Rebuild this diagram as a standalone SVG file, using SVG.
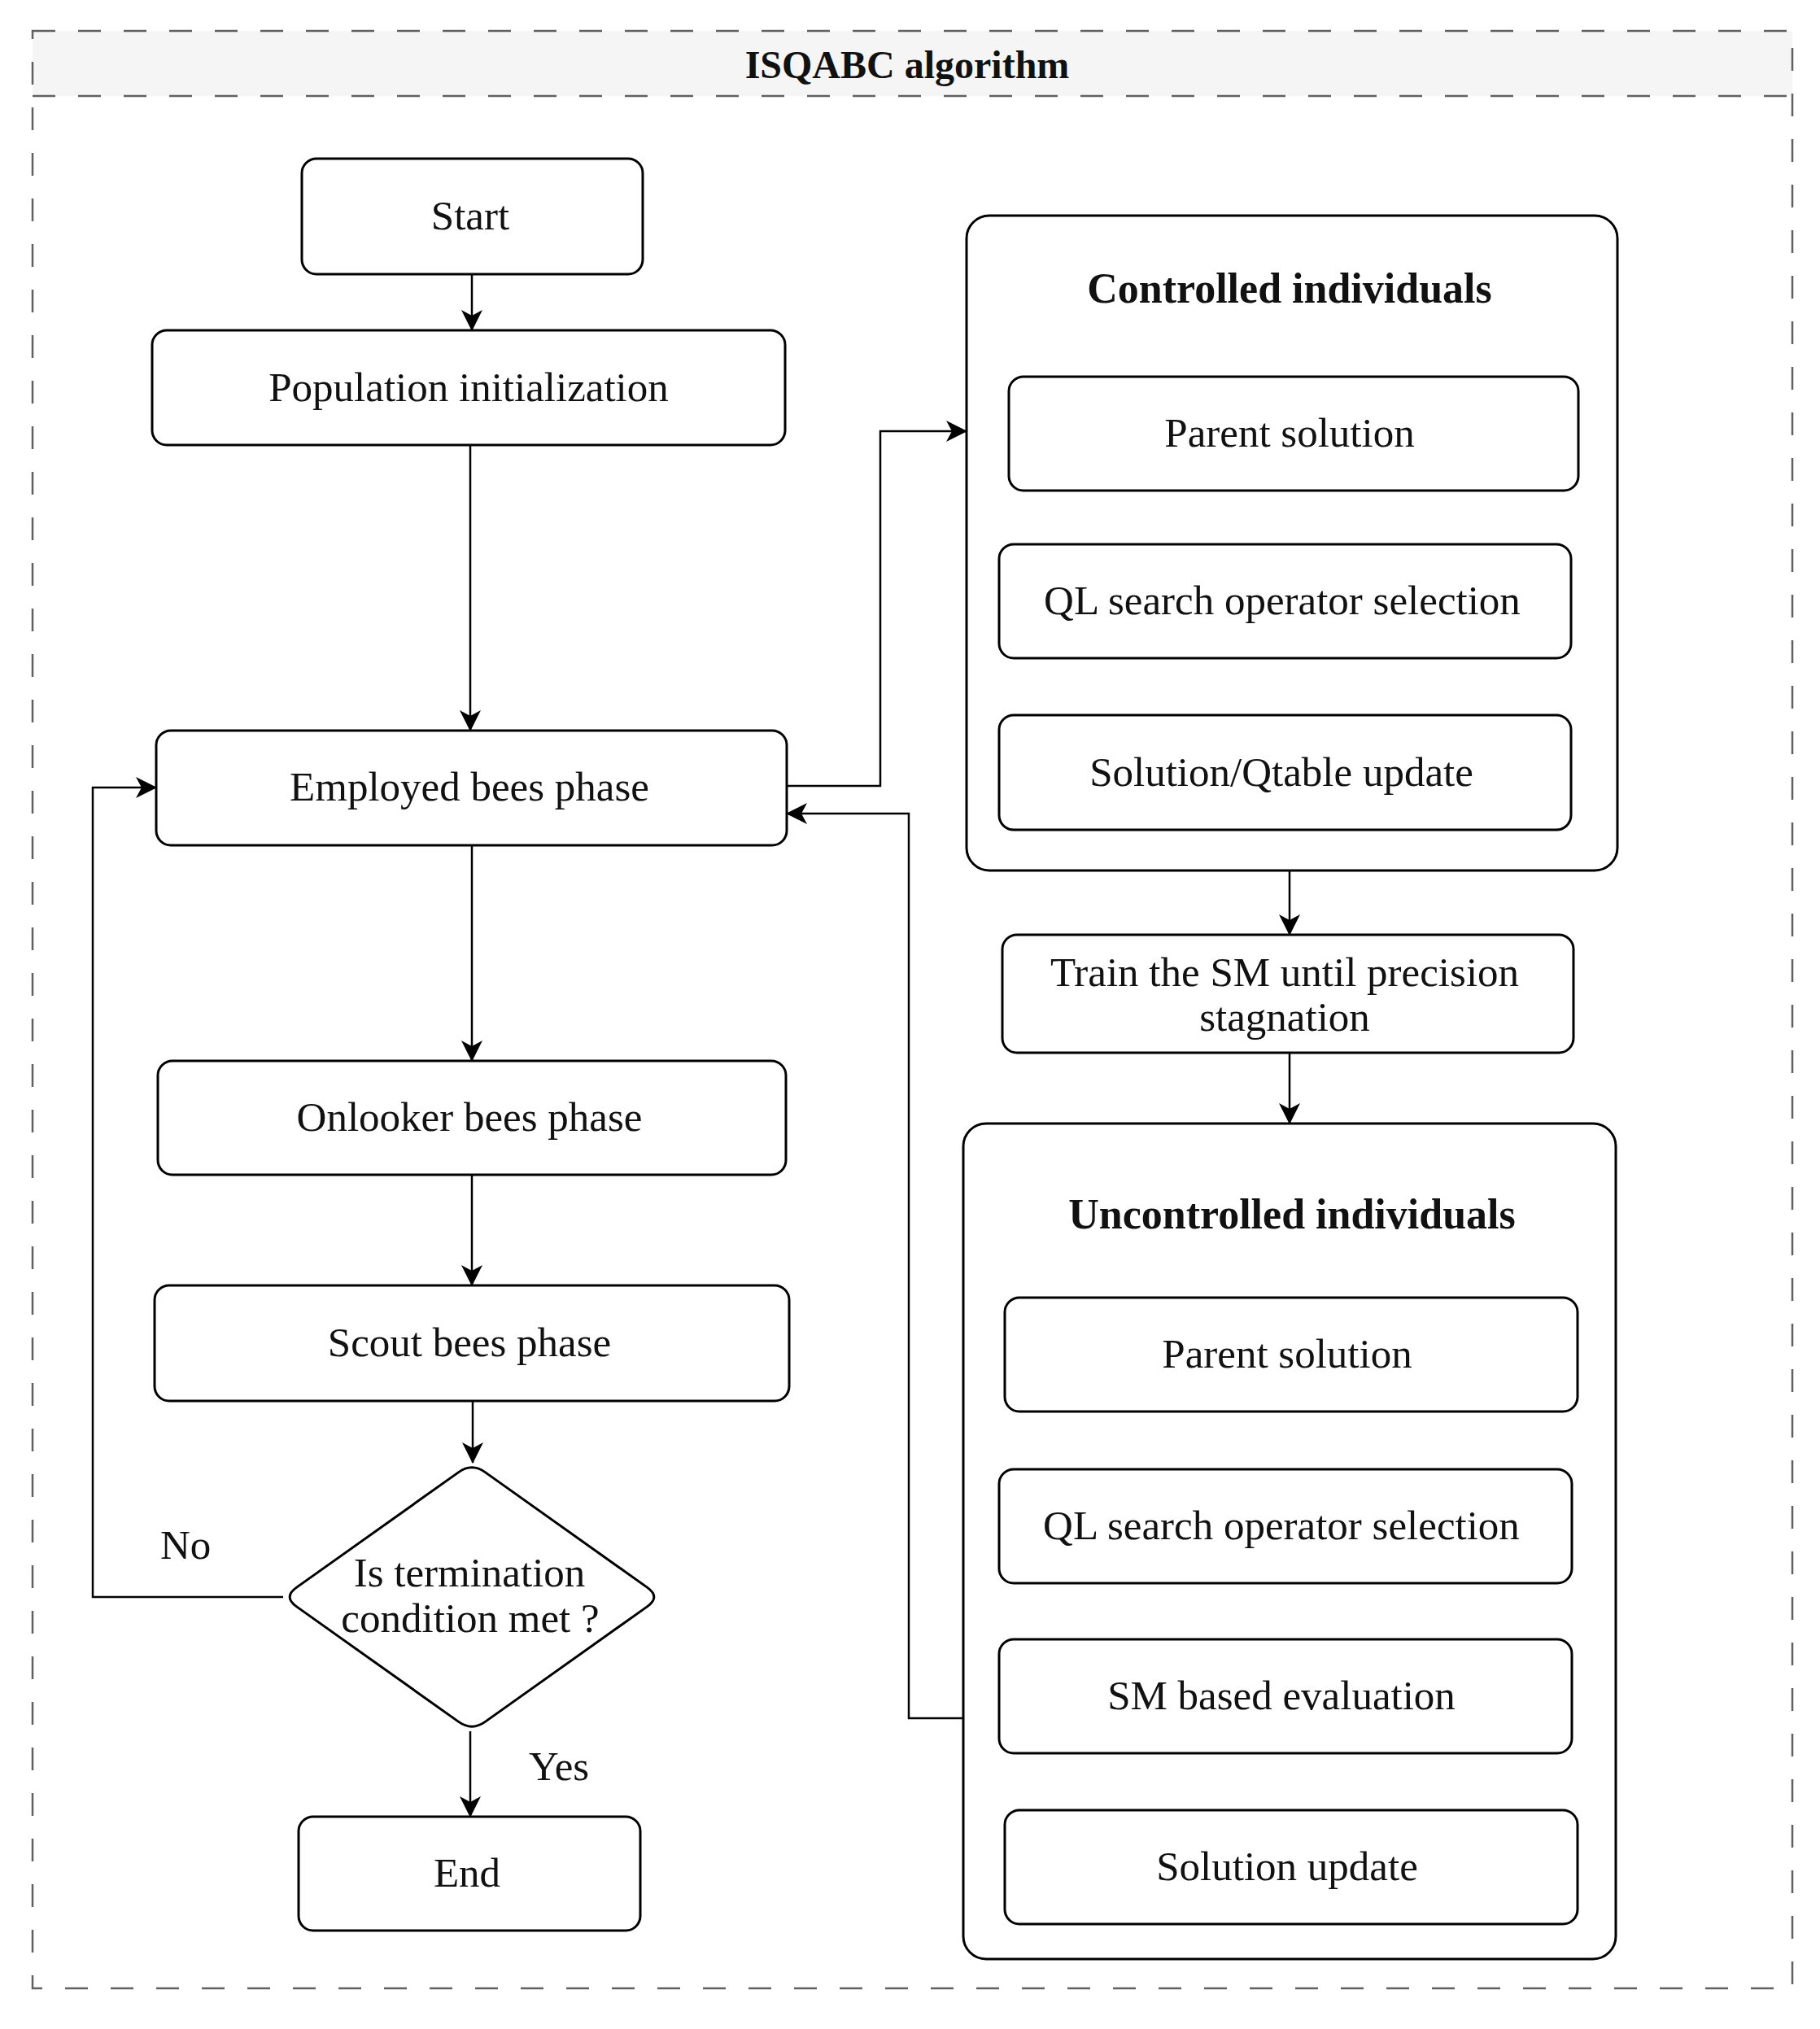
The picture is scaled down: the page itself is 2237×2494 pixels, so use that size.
<svg xmlns="http://www.w3.org/2000/svg" width="2237" height="2494" viewBox="0 0 2237 2494">
<defs>
<style>
.box{fill:#fff;stroke:#000;stroke-width:3}
.cont{fill:#fff;stroke:#000;stroke-width:3}
.t{font-family:"Liberation Serif","Times New Roman",serif;font-size:51px;fill:#111;text-anchor:middle}
.tl{font-family:"Liberation Serif","Times New Roman",serif;font-size:51px;fill:#111}
.b{font-family:"Liberation Serif","Times New Roman",serif;font-size:52px;font-weight:bold;fill:#111;text-anchor:middle}
.c{fill:none;stroke:#000;stroke-width:2.5}
.dash{fill:none;stroke:#606060;stroke-width:2.5;stroke-dasharray:28 28}
</style>
<marker id="arr" markerUnits="userSpaceOnUse" markerWidth="26" markerHeight="26" refX="25" refY="13" orient="auto">
<path d="M0,0 L26,13 L0,26 L7,13 Z" fill="#000"/>
</marker>
</defs>
<rect x="0" y="0" width="2237" height="2494" fill="#fff"/>
<g id="frame">
<rect x="40" y="38" width="2163" height="80" fill="#f5f5f5"/>
<rect class="dash" x="40" y="38" width="2163" height="2406"/>
<line class="dash" x1="40" y1="118" x2="2203" y2="118"/>
<text x="1115" y="96" font-family="Liberation Serif, Times New Roman, serif" font-size="48" font-weight="bold" fill="#111" text-anchor="middle">ISQABC algorithm</text>
</g>
<g id="connectors">
<path class="c" d="M580,337 L580,406" marker-end="url(#arr)"/>
<path class="c" d="M578,547 L578,898" stroke="#333" marker-end="url(#arr)"/>
<path class="c" d="M580,1039 L580,1304" stroke="#555" marker-end="url(#arr)"/>
<path class="c" d="M580,1444 L580,1580" marker-end="url(#arr)"/>
<path class="c" d="M581,1722 L581,1798" marker-end="url(#arr)"/>
<path class="c" d="M578,2128 L578,2233" stroke="#333" marker-end="url(#arr)"/>
<path class="c" d="M348,1963 L114,1963 L114,968 L192,968" marker-end="url(#arr)"/>
<path class="c" d="M967,966 L1082,966 L1082,530 L1188,530" marker-end="url(#arr)"/>
<path class="c" d="M1186,2112 L1117,2112 L1117,1000 L967,1000" stroke="#555" marker-end="url(#arr)"/>
<path class="c" d="M1591,603 L1591,669" marker-end="url(#arr)"/>
<path class="c" d="M1579,809 L1579,879" marker-end="url(#arr)"/>
<path class="c" d="M1585,1070 L1585,1149" marker-end="url(#arr)"/>
<path class="c" d="M1585,1294 L1585,1381" marker-end="url(#arr)"/>
<path class="c" d="M1590,1735 L1590,1806" marker-end="url(#arr)"/>
<path class="c" d="M1582,1946 L1582,2015" marker-end="url(#arr)"/>
<path class="c" d="M1590,2155 L1590,2225" marker-end="url(#arr)"/>
</g>
<g id="start"><rect class="box" x="371" y="195" width="419" height="142" rx="18"/><text class="t" x="578" y="282">Start</text></g>
<g id="pop-init"><rect class="box" x="187" y="406" width="778" height="141" rx="18"/><text class="t" x="576" y="493">Population initialization</text></g>
<g id="employed"><rect class="box" x="192" y="898" width="775" height="141" rx="18"/><text class="t" x="577" y="984">Employed bees phase</text></g>
<g id="onlooker"><rect class="box" x="194" y="1304" width="772" height="140" rx="18"/><text class="t" x="577" y="1390">Onlooker bees phase</text></g>
<g id="scout"><rect class="box" x="190" y="1580" width="780" height="142" rx="18"/><text class="t" x="577" y="1667">Scout bees phase</text></g>
<g id="decision">
<path class="box" d="M596.3,1809.6 L795.7,1951.4 Q812,1963 795.7,1974.6 L596.3,2116.4 Q580,2128 563.7,2116.4 L364.3,1974.6 Q348,1963 364.3,1951.4 L563.7,1809.6 Q580,1798 596.3,1809.6 Z"/>
<text class="t" x="577" y="1950">Is termination</text>
<text class="t" x="578" y="2006">condition met ?</text>
</g>
<g id="label-no"><text class="tl" x="197" y="1916">No</text></g>
<g id="label-yes"><text class="tl" x="650" y="2188">Yes</text></g>
<g id="end"><rect class="box" x="367" y="2233" width="420" height="140" rx="18"/><text class="t" x="574" y="2319">End</text></g>
<g id="controlled">
<rect class="cont" x="1188" y="265" width="800" height="805" rx="28"/>
<text class="b" x="1585" y="372">Controlled individuals</text>
</g>
<g id="c-parent"><rect class="box" x="1240" y="463" width="700" height="140" rx="18"/><text class="t" x="1585" y="549">Parent solution</text></g>
<g id="c-ql"><rect class="box" x="1228" y="669" width="703" height="140" rx="18"/><text class="t" x="1576" y="755">QL search operator selection</text></g>
<g id="c-update"><rect class="box" x="1228" y="879" width="703" height="141" rx="18"/><text class="t" x="1575" y="966">Solution/Qtable update</text></g>
<g id="train"><rect class="box" x="1232" y="1149" width="702" height="145" rx="18"/>
<text class="t" x="1579" y="1212">Train the SM until precision</text>
<text class="t" x="1579" y="1267">stagnation</text></g>
<g id="uncontrolled">
<rect class="cont" x="1184" y="1381" width="802" height="1027" rx="28"/>
<text class="b" x="1588" y="1510">Uncontrolled individuals</text>
</g>
<g id="u-parent"><rect class="box" x="1235" y="1595" width="704" height="140" rx="18"/><text class="t" x="1582" y="1681">Parent solution</text></g>
<g id="u-ql"><rect class="box" x="1228" y="1806" width="704" height="140" rx="18"/><text class="t" x="1575" y="1892">QL search operator selection</text></g>
<g id="u-sm"><rect class="box" x="1228" y="2015" width="704" height="140" rx="18"/><text class="t" x="1575" y="2101">SM based evaluation</text></g>
<g id="u-update"><rect class="box" x="1235" y="2225" width="704" height="140" rx="18"/><text class="t" x="1582" y="2311">Solution update</text></g>
</svg>
